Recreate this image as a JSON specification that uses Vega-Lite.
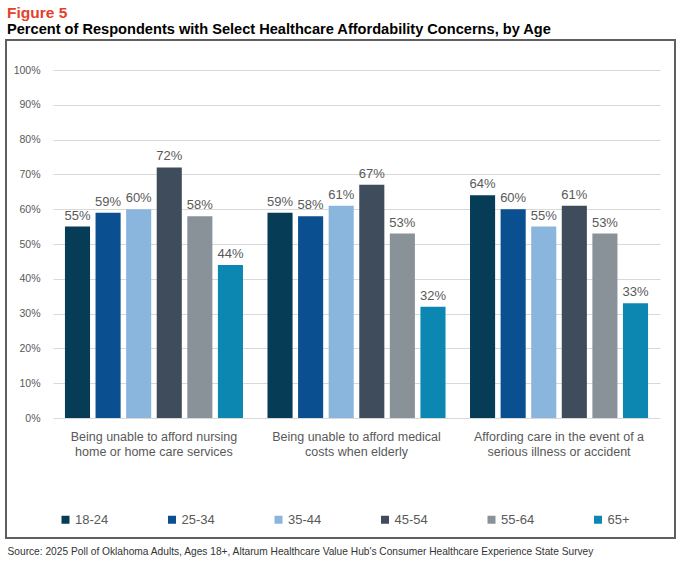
{
  "$schema": "https://vega.github.io/schema/vega-lite/v6.json",
  "width": 669,
  "height": 498,
  "padding": {"left": 6, "top": 5, "right": 8, "bottom": 3},
  "title": {
    "text": "Figure 5",
    "subtitle": "Percent of Respondents with Select Healthcare Affordability Concerns, by Age",
    "anchor": "start",
    "font": "Liberation Sans",
    "fontSize": 15.5,
    "fontWeight": "bold",
    "color": "#e5402b",
    "subtitleFont": "Liberation Sans",
    "subtitleFontSize": 14.6,
    "subtitleFontWeight": "bold",
    "subtitleColor": "#000000",
    "subtitlePadding": 1,
    "offset": 3,
    "dx": 1
  },
  "config": {
    "view": {"stroke": "#5f5f5f", "strokeWidth": 2},
    "font": "Liberation Sans"
  },
  "data": {
    "values": [
      {"concern": "Being unable to afford nursing home or home care services", "age": "18-24", "share": 0.55},
      {"concern": "Being unable to afford nursing home or home care services", "age": "25-34", "share": 0.59},
      {"concern": "Being unable to afford nursing home or home care services", "age": "35-44", "share": 0.60},
      {"concern": "Being unable to afford nursing home or home care services", "age": "45-54", "share": 0.72},
      {"concern": "Being unable to afford nursing home or home care services", "age": "55-64", "share": 0.58},
      {"concern": "Being unable to afford nursing home or home care services", "age": "65+", "share": 0.44},
      {"concern": "Being unable to afford medical costs when elderly", "age": "18-24", "share": 0.59},
      {"concern": "Being unable to afford medical costs when elderly", "age": "25-34", "share": 0.58},
      {"concern": "Being unable to afford medical costs when elderly", "age": "35-44", "share": 0.61},
      {"concern": "Being unable to afford medical costs when elderly", "age": "45-54", "share": 0.67},
      {"concern": "Being unable to afford medical costs when elderly", "age": "55-64", "share": 0.53},
      {"concern": "Being unable to afford medical costs when elderly", "age": "65+", "share": 0.32},
      {"concern": "Affording care in the event of a serious illness or accident", "age": "18-24", "share": 0.64},
      {"concern": "Affording care in the event of a serious illness or accident", "age": "25-34", "share": 0.60},
      {"concern": "Affording care in the event of a serious illness or accident", "age": "35-44", "share": 0.55},
      {"concern": "Affording care in the event of a serious illness or accident", "age": "45-54", "share": 0.61},
      {"concern": "Affording care in the event of a serious illness or accident", "age": "55-64", "share": 0.53},
      {"concern": "Affording care in the event of a serious illness or accident", "age": "65+", "share": 0.33}
    ]
  },
  "encoding": {
    "x": {
      "field": "concern",
      "type": "nominal",
      "sort": null,
      "scale": {"range": [47, 654], "paddingInner": 0.121, "paddingOuter": 0.059},
      "axis": {
        "orient": "bottom",
        "offset": -120,
        "domain": false,
        "ticks": false,
        "grid": false,
        "labelAngle": 0,
        "labelPadding": 12,
        "labelFontSize": 12.5,
        "labelColor": "#595959",
        "labelLineHeight": 15,
        "labelLimit": 300,
        "labelExpr": "datum.value == 'Being unable to afford nursing home or home care services' ? ['Being unable to afford nursing', 'home or home care services'] : datum.value == 'Being unable to afford medical costs when elderly' ? ['Being unable to afford medical', 'costs when elderly'] : ['Affording care in the event of a', 'serious illness or accident']",
        "title": "Source: 2025 Poll of Oklahoma Adults, Ages 18+, Altarum Healthcare Value Hub's Consumer Healthcare Experience State Survey",
        "titleFontSize": 10.2,
        "titleFontWeight": "normal",
        "titleColor": "#333333",
        "titleAnchor": "start",
        "titleAlign": "left",
        "titleBaseline": "middle",
        "titleX": 1,
        "titleY": 133
      }
    },
    "xOffset": {
      "field": "age",
      "type": "nominal",
      "sort": ["18-24", "25-34", "35-44", "45-54", "55-64", "65+"],
      "scale": {"paddingInner": 0.18, "paddingOuter": 0}
    },
    "y": {
      "field": "share",
      "type": "quantitative",
      "scale": {"domain": [0, 1], "range": [378, 30]},
      "axis": {
        "offset": -47,
        "domain": false,
        "ticks": false,
        "values": [0, 0.1, 0.2, 0.3, 0.4, 0.5, 0.6, 0.7, 0.8, 0.9, 1],
        "format": ".0%",
        "labelPadding": 13,
        "labelFontSize": 10.5,
        "labelColor": "#595959",
        "gridColor": "#d9d9d9",
        "gridWidth": 1,
        "title": null
      }
    }
  },
  "layer": [
    {
      "mark": {"type": "bar"},
      "encoding": {
        "color": {
          "field": "age",
          "type": "nominal",
          "sort": ["18-24", "25-34", "35-44", "45-54", "55-64", "65+"],
          "scale": {
            "domain": ["18-24", "25-34", "35-44", "45-54", "55-64", "65+"],
            "range": ["#063c55", "#0a4f8f", "#8ab6de", "#3e4c5b", "#8a9299", "#0b87b2"]
          },
          "legend": {
            "orient": "none",
            "direction": "horizontal",
            "columns": 6,
            "gridAlign": "all",
            "legendX": 53,
            "legendY": 473,
            "title": null,
            "symbolType": "square",
            "symbolSize": 64,
            "symbolStrokeWidth": 0,
            "symbolOffset": 0,
            "labelOffset": 3,
            "labelFontSize": 13,
            "labelColor": "#595959",
            "columnPadding": 56.5
          }
        }
      }
    },
    {
      "mark": {"type": "text", "baseline": "bottom", "dy": -4, "fontSize": 13, "color": "#595959"},
      "encoding": {
        "text": {"field": "share", "type": "quantitative", "format": ".0%"}
      }
    }
  ]
}
